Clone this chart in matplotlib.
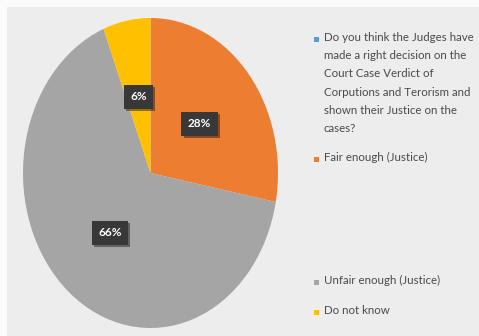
import matplotlib
matplotlib.use("Agg")
import matplotlib.pyplot as plt
from matplotlib.patches import Rectangle
import matplotlib.patheffects as pe
import numpy as np

# Survey answers
categories = [
    "Do you think the Judges have\nmade a right decision on the\nCourt Case Verdict of\nCorputions and Terorism and\nshown their Justice on the\ncases?",
    "Fair enough (Justice)",
    "Unfair enough (Justice)",
    "Do not know",
]
values = [0, 28, 66, 6]
colors = ["#5B9BD5", "#ED7D31", "#A5A5A5", "#FFC000"]

W, H = 479, 336
fig = plt.figure(figsize=(W / 100, H / 100), dpi=100)
fig.patch.set_facecolor("#ededed")

# white strip on the left and top edges
fig.add_artist(Rectangle((0, 0), 7 / W, 1, transform=fig.transFigure,
                         facecolor="#fbfbfb", edgecolor="none", zorder=0))
fig.add_artist(Rectangle((0, 1 - 7 / H), 1, 7 / H, transform=fig.transFigure,
                         facecolor="#fbfbfb", edgecolor="none", zorder=0))

# pie axes (ellipse stretched vertically)
left, right, top, bottom = 23, 278, 18, 328
ax = fig.add_axes([left / W, 1 - bottom / H, (right - left) / W, (bottom - top) / H])
ax.set_facecolor("none")
wedges, _ = ax.pie(values, colors=colors, startangle=90, counterclock=False,
                   wedgeprops=dict(linewidth=0))
ax.set_aspect("auto")
ax.set_xlim(-1, 1)
ax.set_ylim(-1, 1)
ax.axis("off")

# percentage labels in dark boxes
for w, v in zip(wedges, values):
    if v == 0:
        continue
    ang = np.deg2rad((w.theta1 + w.theta2) / 2)
    r = 0.5
    ax.text(r * np.cos(ang), r * np.sin(ang), f"{v}%", ha="center", va="center",
            color="white", fontsize=8.5, fontweight="bold", family="Lato",
            bbox=dict(boxstyle="square,pad=0.55", facecolor="#383838",
                      edgecolor="none",
                      path_effects=[pe.SimplePatchShadow(offset=(1.5, -1.5), alpha=0.45),
                                    pe.Normal()]))

# legend drawn as text with square markers
legend_y = [40, 160, 283, 313]
mx, tx = 317, 324
for lab, c, y in zip(categories, colors, legend_y):
    fig.add_artist(Rectangle(((mx - 3) / W, 1 - (y + 2) / H), 5 / W, 5 / H,
                             transform=fig.transFigure, facecolor=c,
                             edgecolor="none"))
    fig.text(tx / W, 1 - (y - 8) / H, lab, ha="left", va="top",
             fontsize=8.3, family="Lato", color="#4a4a4a", linespacing=1.8)

fig.savefig("out.png", dpi=100, facecolor=fig.get_facecolor())
